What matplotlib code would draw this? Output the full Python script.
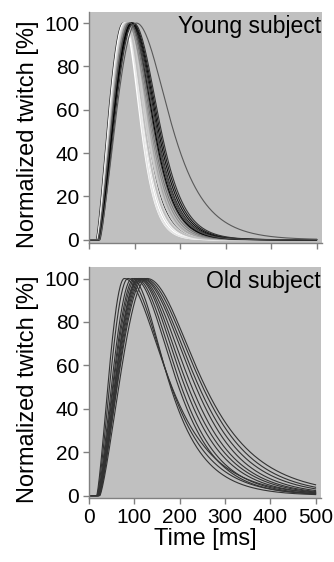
import numpy as np
import matplotlib
matplotlib.use("Agg")
import matplotlib.pyplot as plt

plt.rcParams['font.family'] = ['Liberation Sans', 'DejaVu Sans']

# --- Young subject: onset, peak, 50% and 20% relaxation times (ms), line grey level ---
young_onset = [16, 18, 19, 20, 21, 19, 21, 20, 22, 20, 21, 23, 20, 22, 22, 21, 24, 22, 20, 23]
young_peak = [75, 77, 79, 80, 82, 80, 84, 83, 86, 85, 88, 90, 92, 94, 95, 96, 98, 93, 90, 104]
young_half = [125, 116, 119, 122, 118, 126, 130, 124, 134, 137, 140, 143, 147, 150, 153, 156, 159, 145, 148, 186]
young_fifth = [157, 141, 145, 149, 142, 155, 160, 152, 165, 170, 174, 178, 183, 187, 191, 195, 199, 180, 185, 245]
young_grey = [0.15, 1.0, 1.0, 0.95, 0.9, 0.85, 0.8, 0.75, 0.65, 0.55, 0.45, 0.35, 0.25, 0.15, 0.05, 0.1, 0.2, 0.0, 0.3, 0.35]

# --- Old subject ---
old_onset = [17, 18, 19, 20, 20, 21, 21, 22, 22, 23, 22, 24]
old_peak = [78, 86, 95, 100, 104, 108, 110, 112, 115, 118, 122, 128]
old_half = [183, 182, 180, 198, 204, 212, 219, 227, 236, 243, 251, 257]
old_fifth = [265, 255, 245, 268, 276, 288, 298, 308, 320, 332, 344, 356]

rise_q = 1.3
t = np.arange(0, 501, 1.0)


def logcosh(x):
    x = np.abs(x)
    return x + np.log1p(np.exp(-2 * x)) - np.log(2)


def twitch(t0, tp, t50, t20):
    # rise: sin^q from onset to peak; decay: sech^m fitted to 50% and 20% points
    y = np.zeros_like(t)
    r = (t > t0) & (t <= tp)
    u = (t[r] - t0) / (tp - t0)
    y[r] = np.sin(np.pi / 2 * u) ** rise_q
    h = t50 - tp
    ratio = (t20 - tp) / h
    target = np.log(5) / np.log(2)
    lo, hi = 0.05, 30.0
    for _ in range(80):
        z = 0.5 * (lo + hi)
        val = logcosh(ratio * z) / logcosh(z)
        if val > target:
            lo = z
        else:
            hi = z
    s = h / z
    m = np.log(2) / logcosh(z)
    d = t > tp
    y[d] = np.exp(-m * logcosh((t[d] - tp) / s))
    return 100 * y


fig = plt.figure(figsize=(3.34, 5.62), dpi=100)
ax1 = fig.add_axes([0.2665, 0.5676, 0.6976, 0.411])
ax2 = fig.add_axes([0.2665, 0.1139, 0.6946, 0.411])

for i in range(len(young_peak)):
    g = young_grey[i]
    ax1.plot(t, twitch(young_onset[i], young_peak[i], young_half[i], young_fifth[i]),
             color=(g, g, g), linewidth=1.1 if g > 0.7 else 0.8)

for i in range(len(old_peak)):
    ax2.plot(t, twitch(old_onset[i], old_peak[i], old_half[i], old_fifth[i]),
             color='#333333', linewidth=0.8)

for ax, title, ylim in [(ax1, "Young subject", (-1.5, 105.1)), (ax2, "Old subject", (-1.1, 105.3))]:
    ax.set_facecolor('#c0c0c0')
    ax.set_xlim(0, 512)
    ax.set_ylim(*ylim)
    ax.set_xticks([0, 100, 200, 300, 400, 500])
    ax.set_yticks([0, 20, 40, 60, 80, 100])
    for sp in ['top', 'right']:
        ax.spines[sp].set_visible(False)
    for sp in ['left', 'bottom']:
        ax.spines[sp].set_color('#808080')
        ax.spines[sp].set_linewidth(1.0)
    ax.tick_params(colors='#808080', labelcolor='black', labelsize=15, length=4, width=1, pad=3)
    ax.set_ylabel("Normalized twitch [%]", fontsize=17)
    ax.yaxis.set_label_coords(-0.215, 0.47)
    ax.text(0.998, 0.985, title, transform=ax.transAxes, ha='right', va='top', fontsize=16.5)

ax1.tick_params(axis='x', labelbottom=False)
ax2.set_xlabel("Time [ms]", fontsize=17, labelpad=1)

fig.savefig("out.png", dpi=100)
